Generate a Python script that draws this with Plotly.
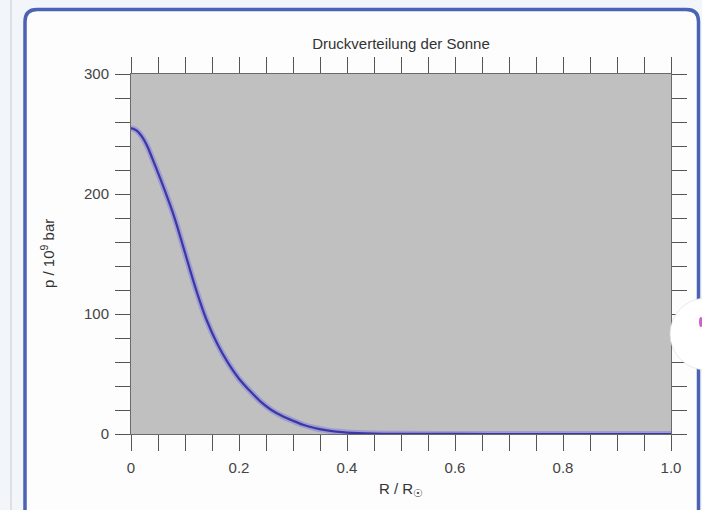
import plotly.graph_objects as go

# ---- data ----
r_values = [0.00, 0.01, 0.02, 0.03, 0.04, 0.06, 0.08, 0.10, 0.12, 0.14, 0.16, 0.18, 0.20,
            0.22, 0.24, 0.26, 0.28, 0.30, 0.32, 0.34, 0.36, 0.38, 0.40,
            0.45, 0.50, 0.60, 0.70, 0.80, 0.90, 1.00]
p_values = [255, 253, 248, 240, 229, 206, 181, 151, 121, 95, 75, 59, 46,
            36, 27, 20, 15, 11, 7.5, 5, 3.2, 2.0, 1.2,
            0.4, 0.15, 0.03, 0.01, 0, 0, 0]

x_tickvals = [0, 0.2, 0.4, 0.6, 0.8, 1.0]
x_ticktext = ["0", "0.2", "0.4", "0.6", "0.8", "1.0"]
y_tickvals = [0, 100, 200, 300]
y_ticktext = ["0", "100", "200", "300"]
x_minor_step = 0.05
y_minor_step = 20

title_text = "Druckverteilung der Sonne"
x_title = "R / R<sub>☉</sub>"
y_title = "p / 10<sup>9</sup> bar"

# ---- layout geometry (pixels) ----
W, H = 702, 510
L, R, T, B = 131, 31, 74, 76
PW, PH = W - L - R, H - T - B


def px(x):
    return (x - L) / PW


def py(y):
    return (H - B - y) / PH


FONT = "Liberation Sans, Arial, sans-serif"

fig = go.Figure()
fig.add_trace(go.Scatter(x=r_values, y=p_values, mode="lines", line_shape="spline",
                         line=dict(color="rgba(120,112,230,0.45)", width=6),
                         hoverinfo="skip", showlegend=False))
fig.add_trace(go.Scatter(x=r_values, y=p_values, mode="lines", line_shape="spline",
                         line=dict(color="#3b38a6", width=2.2),
                         showlegend=False))

# rounded frame
x0, x1, y0, y1 = 25, 698.5, 9.5, 540
rx, ry = 12 / PW, 12 / PH
frame_path = (
    f"M {px(x0)+rx},{py(y0)} L {px(x1)-rx},{py(y0)} Q {px(x1)},{py(y0)} {px(x1)},{py(y0)-ry} "
    f"L {px(x1)},{py(y1)} L {px(x0)},{py(y1)} L {px(x0)},{py(y0)-ry} "
    f"Q {px(x0)},{py(y0)} {px(x0)+rx},{py(y0)} Z"
)
shapes = [
    dict(type="line", xref="paper", yref="paper", x0=px(11), x1=px(11), y0=py(0), y1=py(H),
         line=dict(color="#c9c9c9", width=1), layer="below"),
    dict(type="path", xref="paper", yref="paper", path=frame_path,
         fillcolor="#fdfdfe", line=dict(color="#4c62b4", width=3.5), layer="below"),
    dict(type="rect", xref="paper", yref="paper", x0=0, x1=1, y0=0, y1=1,
         fillcolor="#c0c0c0", line=dict(width=0), layer="below"),
    # white circular overlay on the right edge
    dict(type="circle", xref="paper", yref="paper", x0=px(670), x1=px(742), y0=py(298), y1=py(370),
         fillcolor="#ffffff", line=dict(color="rgba(220,220,220,0.6)", width=1), layer="above"),
    dict(type="circle", xref="paper", yref="paper", x0=px(699), x1=px(703), y0=py(317), y1=py(327),
         fillcolor="#d060c8", line=dict(width=0), layer="above"),
]

annotations = [
    dict(text=y_title, xref="paper", yref="paper", x=0, y=0.5, xshift=47 - L,
         xanchor="center", yanchor="middle", textangle=-90, showarrow=False,
         font=dict(family=FONT, size=15, color="#333")),
    dict(text=x_title, xref="paper", yref="paper", x=0.5, y=0, yshift=-(489 - (H - B)),
         xanchor="center", yanchor="middle", showarrow=False,
         font=dict(family=FONT, size=15, color="#333")),
]

axis_common = dict(showline=True, linecolor="#6a6a6a", linewidth=1, mirror="ticks",
                   ticks="outside", tickcolor="#555", tickwidth=1,
                   showgrid=False, zeroline=False,
                   tickfont=dict(family=FONT, size=15, color="#444"))

fig.update_layout(
    width=W, height=H,
    margin=dict(l=L, r=R, t=T, b=B, pad=0),
    paper_bgcolor="#f2f6fa",
    plot_bgcolor="rgba(0,0,0,0)",
    title=dict(text=title_text, x=0.5, xref="paper", y=1 - 44 / H, yref="container",
               xanchor="center", yanchor="middle",
               font=dict(family=FONT, size=15, color="#333")),
    xaxis=dict(range=[0, 1], tickmode="array", tickvals=x_tickvals, ticktext=x_ticktext,
               ticklen=16, ticklabelstandoff=4,
               minor=dict(dtick=x_minor_step, tick0=0, ticks="outside", ticklen=16,
                          tickcolor="#555", tickwidth=1, showgrid=False),
               **axis_common),
    yaxis=dict(range=[0, 300], tickmode="array", tickvals=y_tickvals, ticktext=y_ticktext,
               ticklen=15, ticklabelstandoff=3,
               minor=dict(dtick=y_minor_step, tick0=0, ticks="outside", ticklen=15,
                          tickcolor="#555", tickwidth=1, showgrid=False),
               **axis_common),
    shapes=shapes,
    annotations=annotations,
    showlegend=False,
)

fig.write_html("out.html")
